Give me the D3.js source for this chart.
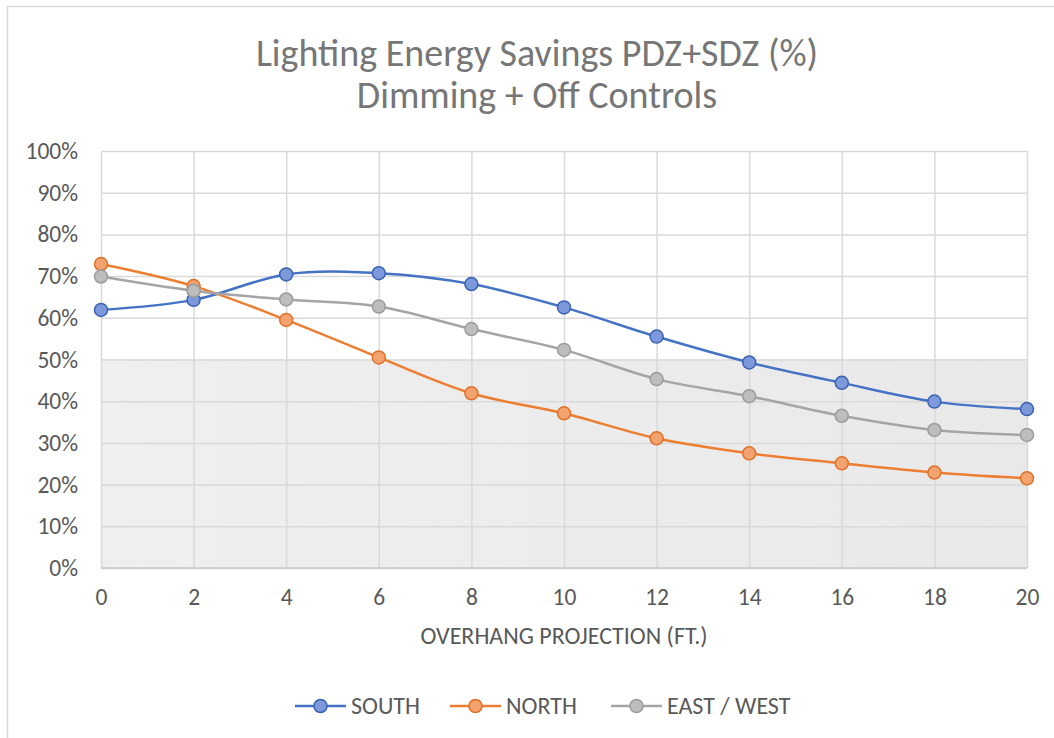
<!DOCTYPE html>
<html>
<head>
<meta charset="utf-8">
<script src="https://cdn.jsdelivr.net/npm/d3@7"></script>
<style>
  body { margin: 0; background: #fff; }
  svg { display: block; font-family: Carlito, Calibri, Lato, 'Open Sans', sans-serif; }
  .tick text { font-family: Carlito, Calibri, Lato, 'Open Sans', sans-serif; }
</style>
</head>
<body>
<script>
// overhang projection (ft.)
const overhang = [0, 2, 4, 6, 8, 10, 12, 14, 16, 18, 20];
// lighting energy savings (%)
const south = [61.9, 64.3, 70.4, 70.7, 68.1, 62.5, 55.5, 49.3, 44.4, 39.9, 38.1];
const north = [72.9, 67.6, 59.5, 50.5, 41.9, 37.1, 31.1, 27.5, 25.1, 22.9, 21.5];
const eastWest = [69.9, 66.5, 64.4, 62.7, 57.3, 52.3, 45.3, 41.2, 36.5, 33.1, 31.9];
// shaded band behind the lines
const bandTop = 50;
const yTicks = [0, 10, 20, 30, 40, 50, 60, 70, 80, 90, 100];
const seriesNames = ['SOUTH', 'NORTH', 'EAST / WEST'];
const titleLines = ['Lighting Energy Savings PDZ+SDZ (%)', 'Dimming + Off Controls'];
const xTitle = 'OVERHANG PROJECTION (FT.)';

const width = 1054;
const height = 738;
const margin = { top: 151, right: 27, bottom: 170, left: 101 };
const plotW = width - margin.left - margin.right;
const plotH = height - margin.top - margin.bottom;

const series = [
  { name: seriesNames[0], values: south, line: '#4472c4', fill: '#7d99dc', stroke: '#3a62b0' },
  { name: seriesNames[1], values: north, line: '#ed7d31', fill: '#f3a36f', stroke: '#e0712a' },
  { name: seriesNames[2], values: eastWest, line: '#a5a5a5', fill: '#bdbdbd', stroke: '#9c9c9c' }
];

const svg = d3.select('body')
  .append('svg')
    .attr('width', width)
    .attr('height', height);

// outer chart border (only top / left visible in the crop)
svg.append('path')
  .attr('d', `M7.5,${height} V6.5 H${width}`)
  .attr('fill', 'none')
  .attr('stroke', '#d9d9d9')
  .attr('stroke-width', 1.5);

// title
svg.append('g')
  .selectAll('text')
  .data(titleLines)
  .enter().append('text')
    .attr('x', 537)
    .attr('y', (d, i) => 66 + i * 42)
    .attr('text-anchor', 'middle')
    .attr('fill', '#767676')
    .style('font-size', '38px')
    .text((d) => d);

const xScale = d3.scaleLinear()
  .domain([0, 20])
  .range([0, plotW]);
const yScale = d3.scaleLinear()
  .domain([0, 100])
  .range([plotH, 0]);

const g = svg.append('g')
  .attr('transform', 'translate(' + margin.left + ',' + margin.top + ')');

// shaded band 0–50%
const shade = svg.append('defs').append('linearGradient')
  .attr('id', 'shade')
  .attr('x1', 0).attr('x2', 1).attr('y1', 0).attr('y2', 0);
shade.append('stop').attr('offset', '0%').attr('stop-color', '#efefef');
shade.append('stop').attr('offset', '100%').attr('stop-color', '#e9e9e9');

g.append('rect')
  .attr('x', xScale(0))
  .attr('y', yScale(bandTop))
  .attr('width', xScale(20) - xScale(0))
  .attr('height', yScale(0) - yScale(bandTop))
  .attr('fill', 'url(#shade)');

// gridlines
g.append('g')
  .attr('class', 'yGrid')
  .call(d3.axisLeft(yScale)
    .tickValues(yTicks)
    .tickSize(-plotW)
    .tickFormat(''))
  .call((s) => s.select('.domain').remove())
  .call((s) => s.selectAll('line').attr('stroke', '#d9d9d9').attr('stroke-width', 1.5));

g.append('g')
  .attr('class', 'xGrid')
  .attr('transform', 'translate(0,' + plotH + ')')
  .call(d3.axisBottom(xScale)
    .tickValues(overhang)
    .tickSize(-plotH)
    .tickFormat(''))
  .call((s) => s.select('.domain').remove())
  .call((s) => s.selectAll('line').attr('stroke', '#d9d9d9').attr('stroke-width', 1.5));

// bottom axis line
g.append('line')
  .attr('x1', 0).attr('x2', plotW)
  .attr('y1', yScale(0)).attr('y2', yScale(0))
  .attr('stroke', '#c8c8c8')
  .attr('stroke-width', 1.5);

// y tick labels
g.append('g')
  .call(d3.axisLeft(yScale)
    .tickValues(yTicks)
    .tickSize(0)
    .tickPadding(23)
    .tickFormat((d) => d + '%'))
  .call((s) => s.select('.domain').remove())
  .call((s) => s.selectAll('text')
    .attr('fill', '#595959')
    .style('font-size', '23.5px'));

// x tick labels
g.append('g')
  .attr('transform', 'translate(0,' + plotH + ')')
  .call(d3.axisBottom(xScale)
    .tickValues(overhang)
    .tickSize(0)
    .tickPadding(20)
    .tickFormat(d3.format('d')))
  .call((s) => s.select('.domain').remove())
  .call((s) => s.selectAll('text')
    .attr('fill', '#595959')
    .style('font-size', '23.5px'));

// x axis title
g.append('text')
  .attr('x', plotW / 2)
  .attr('y', plotH + 76)
  .attr('text-anchor', 'middle')
  .attr('fill', '#595959')
  .style('font-size', '24px')
  .text(xTitle);

// lines + markers
const line = d3.line()
  .x((d, i) => xScale(overhang[i]))
  .y((d) => yScale(d))
  .curve(d3.curveCatmullRom.alpha(0));

const seriesG = g.selectAll('.series')
  .data(series)
  .enter().append('g')
    .attr('class', 'series');

seriesG.append('path')
  .attr('d', (s) => line(s.values))
  .attr('fill', 'none')
  .attr('stroke', (s) => s.line)
  .attr('stroke-width', 2.5);

seriesG.each(function (s) {
  d3.select(this).selectAll('circle')
    .data(s.values)
    .enter().append('circle')
      .attr('cx', (d, i) => xScale(overhang[i]))
      .attr('cy', (d) => yScale(d))
      .attr('r', 6.5)
      .attr('fill', s.fill)
      .attr('stroke', s.stroke)
      .attr('stroke-width', 1.5);
});

// legend
const legendX = [295, 450, 611];
const legend = svg.append('g')
  .selectAll('g')
  .data(series)
  .enter().append('g')
    .attr('transform', (d, i) => 'translate(' + legendX[i] + ',706)');

legend.append('line')
  .attr('x1', 0).attr('x2', 51)
  .attr('stroke', (d) => d.line)
  .attr('stroke-width', 2.5);

legend.append('circle')
  .attr('cx', 25.5)
  .attr('r', 6.5)
  .attr('fill', (d) => d.fill)
  .attr('stroke', (d) => d.stroke)
  .attr('stroke-width', 1.5);

legend.append('text')
  .attr('x', 56)
  .attr('dy', '0.35em')
  .attr('fill', '#595959')
  .style('font-size', '24px')
  .text((d) => d.name);
</script>
</body>
</html>
